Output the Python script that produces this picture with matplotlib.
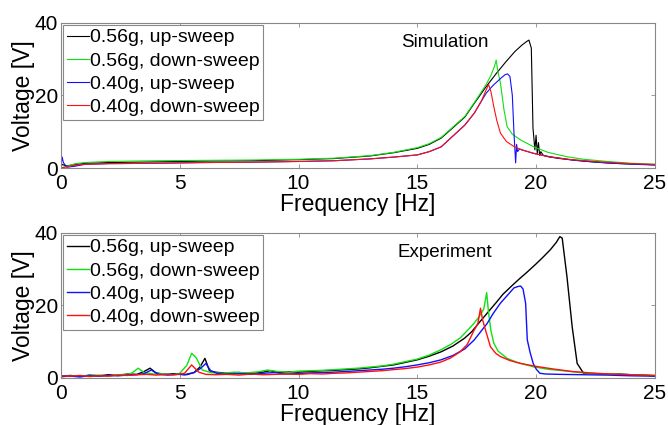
# Frequency response: simulation vs experiment (0.56g / 0.40g, up and down sweeps)
import matplotlib
matplotlib.use('Agg')
import matplotlib.pyplot as plt

plt.rcParams['font.family'] = ['Liberation Sans', 'DejaVu Sans']

labels = ['0.56g, up-sweep', '0.56g, down-sweep', '0.40g, up-sweep', '0.40g, down-sweep']
colors = ['#000000', '#10e010', '#1010ff', '#ff1010']

# ---------------- simulation ----------------
sim_f_k = [0, 0.05, 0.2, 0.5, 1, 2, 4, 6, 8, 10, 11.5, 13, 14, 15, 15.5, 16, 16.4, 17, 17.4, 17.9,
           18.3, 18.7, 19.1, 19.4, 19.6, 19.7, 19.8, 19.87, 19.95, 20.0, 20.05, 20.1, 20.15, 20.2,
           20.3, 20.6, 21, 22, 23, 24, 25]
sim_v_k = [0.3, 1.0, 0.6, 0.8, 1.3, 1.5, 1.7, 1.9, 2.0, 2.3, 2.6, 3.3, 4.2, 5.4, 6.5, 8.2, 10.5, 14,
           17.8, 22.4, 25.8, 29.0, 32.0, 33.8, 34.8, 35.2, 33, 11, 5, 9, 4, 7, 3.5, 4.5,
           3.5, 3.0, 2.6, 1.9, 1.4, 1.1, 0.9]

sim_f_g = [0, 0.3, 0.6, 1, 2, 4, 6, 8, 10, 11.5, 13, 14, 15, 15.5, 16, 16.4, 17, 17.4, 17.9, 18.1,
           18.25, 18.32, 18.38, 18.5, 18.65, 18.78, 19.0, 19.35, 19.88, 20.5, 21.3, 22, 23, 24, 25]
sim_v_g = [0, 0.6, 1.2, 1.5, 1.8, 2.0, 2.1, 2.2, 2.4, 2.7, 3.4, 4.3, 5.6, 6.7, 8.4, 10.7, 14.2, 18.0,
           23.0, 25.5, 28, 29.7, 27, 23.4, 16, 11.4, 9.3, 7.7, 5.9, 4.3, 3.1, 2.4, 1.8, 1.3, 1.0]

sim_f_b = [0, 0.05, 0.1, 0.25, 0.6, 1, 2, 4, 6, 8, 10, 11.5, 13, 14, 15, 15.5, 16, 16.4, 17, 17.4,
           17.9, 18.2, 18.5, 18.7, 18.8, 18.9, 19.0, 19.07, 19.14, 19.18, 19.22, 19.3, 19.5, 19.9,
           20.5, 21.5, 22.5, 23.5, 25]
sim_v_b = [0.5, 3, 1.5, 0.2, 0.5, 1.0, 1.2, 1.3, 1.5, 1.6, 1.8, 2.0, 2.5, 3.0, 3.6, 4.5, 5.8, 8.2,
           11.8, 15.1, 20.6, 22.8, 24.6, 25.7, 25.9, 25.2, 20, 9.6, 1.4, 6.5, 4.5, 5.2, 4.8, 4.0,
           3.2, 2.2, 1.6, 1.2, 0.8]

sim_f_r = [0, 0.3, 0.6, 1, 2, 4, 6, 8, 10, 11.5, 13, 14, 15, 15.5, 16, 16.4, 17, 17.4, 17.7, 17.9,
           18.0, 18.1, 18.22, 18.35, 18.5, 18.75, 19.07, 19.4, 19.87, 20.5, 21.5, 22.7, 24, 25]
sim_v_r = [0, 0.4, 0.8, 1.0, 1.2, 1.3, 1.5, 1.6, 1.8, 2.0, 2.5, 3.0, 3.6, 4.5, 5.8, 8.2, 11.8, 15.1,
           18.5, 21.5, 23.0, 21, 16.9, 13, 9.6, 7.3, 5.9, 5.0, 4.1, 3.1, 2.3, 1.7, 1.2, 1.0]

# ---------------- experiment ----------------
exp_f_k = [0, 0.4, 0.8, 1.2, 1.6, 2.0, 2.4, 2.8, 3.2, 3.5, 3.75, 4.0, 4.4, 4.8, 5.2, 5.6, 5.85, 6.06,
           6.25, 6.5, 7.0, 7.5, 8.0, 8.5, 8.8, 9.2, 9.6, 10, 10.5, 11, 11.5, 12, 12.5, 13, 13.5, 14,
           14.5, 15, 15.5, 16, 16.5, 17, 17.3, 17.6, 18, 18.3, 18.6, 19, 19.3, 19.6, 20, 20.3, 20.6,
           20.85, 21.0, 21.1, 21.3, 21.52, 21.73, 22.0, 22.5, 23, 23.5, 24, 24.5, 25]
exp_v_k = [0.5, 0.7, 0.4, 0.8, 0.6, 0.9, 0.7, 1.1, 1.0, 1.8, 2.7, 1.4, 1.0, 1.2, 0.9, 1.5, 3.0, 5.4,
           2.0, 1.6, 1.3, 1.5, 1.2, 1.6, 2.0, 1.5, 1.7, 1.6, 1.8, 2.0, 2.1, 2.3, 2.5, 2.8, 3.2, 3.6,
           4.3, 5.0, 6.0, 7.2, 8.8, 11.0, 12.8, 15.2, 18.3, 20.6, 23.0, 25.5, 27.3, 29.0, 31.4, 33.3,
           35.3, 37.3, 38.9, 38.5, 27.9, 14.1, 4.0, 1.3, 1.2, 1.0, 1.1, 0.9, 0.8, 0.6]

exp_f_g = [0, 0.4, 0.8, 1.2, 1.6, 2.0, 2.4, 2.8, 3.0, 3.25, 3.5, 3.9, 4.3, 4.7, 5.0, 5.3, 5.5, 5.7,
           5.95, 6.3, 6.8, 7.3, 7.8, 8.3, 8.7, 9.1, 9.6, 10, 10.5, 11, 11.5, 12, 12.5, 13, 13.5, 14,
           14.5, 15, 15.5, 16, 16.4, 16.8, 17.1, 17.38, 17.6, 17.8, 17.92, 18.0, 18.1, 18.22, 18.4,
           18.78, 19.2, 19.88, 20.5, 21.3, 22, 23, 24, 25]
exp_v_g = [0.3, 0.6, 0.5, 0.7, 0.8, 0.6, 0.9, 1.0, 1.4, 2.7, 1.5, 1.1, 1.2, 0.9, 1.3, 3.5, 6.8, 5.5,
           2.2, 1.5, 1.3, 1.6, 1.4, 1.7, 2.2, 1.8, 1.6, 1.9, 2.0, 2.1, 2.3, 2.5, 2.7, 3.0, 3.3, 3.8,
           4.5, 5.2, 6.3, 7.8, 9.2, 11.0, 13.0, 15.0, 16.8, 19.0, 23.5, 18.0, 13.0, 9.6, 7.4,
           5.4, 4.3, 3.1, 2.4, 1.9, 1.4, 1.1, 0.9, 0.7]

exp_f_b = [0, 0.4, 0.8, 1.2, 1.6, 2.0, 2.4, 2.8, 3.2, 3.5, 3.8, 4.1, 4.5, 4.9, 5.3, 5.6, 5.85, 6.1,
           6.3, 6.6, 7.0, 7.5, 8.0, 8.5, 9.0, 9.4, 10, 10.5, 11, 11.5, 12, 12.5, 13, 13.5, 14, 14.5,
           15, 15.5, 16, 16.5, 17, 17.4, 17.94, 18.2, 18.5, 18.8, 19.07, 19.25, 19.35, 19.45, 19.56,
           19.63, 19.75, 19.88, 20.0, 20.16, 20.4, 21, 22, 23, 24, 25]
exp_v_b = [0.4, 0.5, 0.3, 0.6, 0.5, 0.7, 0.6, 0.8, 0.9, 1.2, 2.2, 1.0, 0.8, 1.0, 0.9, 1.5, 2.5, 4.0,
           2.0, 1.2, 1.0, 1.2, 1.0, 1.3, 1.5, 1.1, 1.2, 1.4, 1.5, 1.6, 1.8, 2.0, 2.2, 2.4, 2.7, 3.1,
           3.6, 4.2, 5.0, 6.2, 8.0, 10.5, 15.0, 17.8, 20.6, 22.8, 24.8, 25.2, 25.3, 24.5, 20.6,
           10.5, 7.0, 4.0, 2.5, 1.3, 1.1, 1.0, 0.9, 0.8, 0.6, 0.5]

exp_f_r = [0, 0.4, 0.8, 1.2, 1.6, 2.0, 2.4, 2.8, 3.2, 3.6, 4.0, 4.4, 4.8, 5.2, 5.5, 5.8, 6.1, 6.5,
           7.0, 7.5, 8.0, 8.5, 9.0, 9.5, 10, 10.5, 11, 11.5, 12, 12.5, 13, 13.5, 14, 14.5, 15, 15.5,
           16, 16.4, 16.8, 17.1, 17.38, 17.55, 17.66, 17.75, 17.87, 18.08, 18.3, 18.5, 18.9, 19.35,
           20, 20.7, 21.5, 22.5, 23.5, 25]
exp_v_r = [0.6, 0.5, 0.7, 0.4, 0.6, 0.5, 0.8, 0.7, 0.9, 1.0, 0.8, 1.0, 0.9, 1.3, 3.6, 1.6, 1.0, 0.9,
           1.0, 0.8, 1.1, 0.9, 1.0, 1.1, 1.0, 1.2, 1.1, 1.3, 1.4, 1.6, 1.8, 2.0, 2.3, 2.6, 3.0, 3.6,
           4.4, 5.5, 7.2, 9.2, 13.0, 15.0, 19.2, 16.0, 13.2, 8.6, 6.8, 5.9, 4.8, 4.0,
           3.2, 2.5, 1.8, 1.3, 1.0, 0.7]

sim = [(sim_f_k, sim_v_k), (sim_f_g, sim_v_g), (sim_f_b, sim_v_b), (sim_f_r, sim_v_r)]
exp = [(exp_f_k, exp_v_k), (exp_f_g, exp_v_g), (exp_f_b, exp_v_b), (exp_f_r, exp_v_r)]

fig = plt.figure(figsize=(6.68, 4.25), dpi=100)
ax1 = fig.add_axes([0.0913, 0.6047, 0.889, 0.342])
ax2 = fig.add_axes([0.0913, 0.1106, 0.889, 0.342])

for ax, data, name, lw in [(ax1, sim, 'Simulation', 0.8), (ax2, exp, 'Experiment', 1.0)]:
    for (f, v), c, lab in zip(data, colors, labels):
        ax.plot(f, v, color=c, lw=lw, label=lab)
    ax.set_xlim(0, 25)
    ax.set_ylim(0, 40)
    ax.set_xticks([0, 5, 10, 15, 20, 25])
    ax.set_yticks([0, 20, 40])
    ax.tick_params(direction='in', top=True, right=True, length=3, width=0.6,
                   color='#888888', labelsize=15)
    ax.tick_params(axis='x', pad=4)
    ax.tick_params(axis='y', pad=2)
    for s in ax.spines.values():
        s.set_color('#888888')
        s.set_linewidth(0.8)
    ax.set_xlabel('Frequency [Hz]', fontsize=16.5, labelpad=0.5)
    ax.set_ylabel('Voltage [V]', fontsize=16.5, labelpad=0)
    ax.text(16.15, 34.5, name, fontsize=13.5, ha='center', va='center')
    leg = ax.legend(loc='upper left', fontsize=14, fancybox=False, framealpha=1,
                    edgecolor='#888888', borderaxespad=0.12, borderpad=0.2,
                    handlelength=1.1, handletextpad=0.05, labelspacing=0.28)
    leg.get_frame().set_linewidth(0.8)

fig.savefig('out.png', dpi=100)
